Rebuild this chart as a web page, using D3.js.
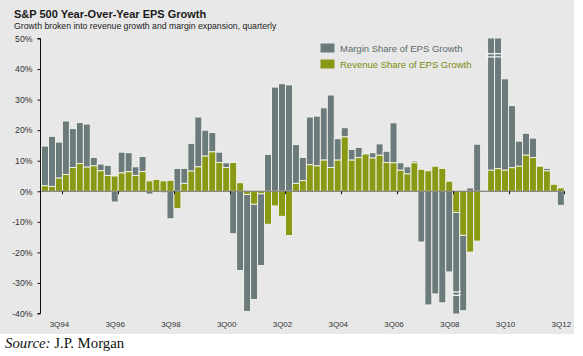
<!DOCTYPE html>
<html>
<head>
<meta charset="utf-8">
<script src="https://cdn.jsdelivr.net/npm/d3@7/dist/d3.min.js"></script>
<style>
  html, body { margin: 0; padding: 0; background: #ffffff; }
  svg { display: block; }
</style>
</head>
<body>
<svg id="chart" width="583" height="356"></svg>
<script>
// ---------------- DATA ----------------
const quarters = [
  "1Q94","2Q94","3Q94","4Q94","1Q95","2Q95","3Q95","4Q95",
  "1Q96","2Q96","3Q96","4Q96","1Q97","2Q97","3Q97","4Q97",
  "1Q98","2Q98","3Q98","4Q98","1Q99","2Q99","3Q99","4Q99",
  "1Q00","2Q00","3Q00","4Q00","1Q01","2Q01","3Q01","4Q01",
  "1Q02","2Q02","3Q02","4Q02","1Q03","2Q03","3Q03","4Q03",
  "1Q04","2Q04","3Q04","4Q04","1Q05","2Q05","3Q05","4Q05",
  "1Q06","2Q06","3Q06","4Q06","1Q07","2Q07","3Q07","4Q07",
  "1Q08","2Q08","3Q08","4Q08","1Q09","2Q09","3Q09","4Q09",
  "1Q10","2Q10","3Q10","4Q10","1Q11","2Q11","3Q11","4Q11",
  "1Q12","2Q12","3Q12"
];
// Revenue share of EPS growth (%)
const revenueShare = [
  1.8, 1.6, 4.3, 5.5, 7.8, 9.1, 7.9, 8.3,
  6.7, 5.2, 5.0, 6.0, 6.4, 5.2, 6.5, 3.4,
  3.9, 3.4, 3.6, -5.7, 2.6, 6.6, 8.0, 11.5,
  12.9, 9.4, 7.8, 9.4, 2.8, -1.0, -4.2, -0.8,
  -10.8, -4.8, -8.2, -14.5, 2.6, 3.5, 8.7, 8.3,
  10.2, 7.8, 10.2, 17.8, 10.2, 11.0, 12.2, 10.9,
  11.8, 9.4, 9.3, 6.9, 5.7, 9.3, 7.2, 6.7,
  8.2, 7.5, 3.3, -6.9, -14.4, -19.9, -16.3, null,
  6.9, 7.4, 6.9, 7.7, 8.2, 11.8, 11.0, 8.2,
  6.7, 2.3, 1.1
];
// Margin share of EPS growth (%)
const marginShare = [
  13.0, 16.4, 11.8, 17.5, 12.7, 13.4, 14.1, 2.8,
  2.2, 3.3, -3.5, 6.8, 6.2, 2.8, 4.9, -0.9,
  -0.3, -0.5, -9.0, 7.5, 4.9, 9.1, 16.3, 8.5,
  6.3, 3.4, 1.5, -13.9, -25.9, -38.3, -31.2, -23.5,
  12.1, 34.1, 35.2, 34.8, 12.7, 7.6, 15.6, 16.3,
  17.1, 23.7, 7.0, 3.0, 3.5, 3.4, -0.3, 1.7,
  3.7, 3.7, 13.1, 2.4, 2.3, 0.6, -16.6, -37.2,
  -33.6, -36.5, -26.4, -41.0, -24.7, 1.1, 15.4, null,
  55.0, 45.0, 29.9, 20.3, 8.2, 7.2, 6.4, 0.2,
  0.8, 0.0, -4.6
];
const xTickLabels = ["3Q94","3Q96","3Q98","3Q00","3Q02","3Q04","3Q06","3Q08","3Q10","3Q12"];
const yTicks = [50, 40, 30, 20, 10, 0, -10, -20, -30, -40];
const seriesNames = ["Margin Share of EPS Growth", "Revenue Share of EPS Growth"];

// ---------------- SETUP ----------------
const svg = d3.select("#chart");
const colMargin = "#6b7a7a";
const colRevenue = "#8a9914";

svg.append("rect").attr("x", 0).attr("y", 0).attr("width", 574).attr("height", 334).attr("fill", "#e8e8e8");

const x = d3.scaleBand().domain(quarters).range([41.5, 564.3]).paddingInner(0).paddingOuter(0);
const y = d3.scaleLinear().domain([-40, 50]).range([313.5, 38.5]);

// Title
svg.append("text").attr("x", 14).attr("y", 18)
  .attr("font-family", "Liberation Sans, Arial, sans-serif").attr("font-size", 11).attr("font-weight", "bold")
  .attr("fill", "#1a1a1a").text("S&P 500 Year-Over-Year EPS Growth");
svg.append("text").attr("x", 14).attr("y", 29)
  .attr("font-family", "Liberation Sans, Arial, sans-serif").attr("font-size", 8.7)
  .attr("fill", "#222").text("Growth broken into revenue growth and margin expansion, quarterly");

// Data rows
const rows = quarters.map((q, i) => ({ q, revenue: revenueShare[i], margin: marginShare[i] }))
  .filter(d => d.revenue !== null && d.margin !== null);
const stack = d3.stack().keys(["revenue", "margin"]).offset(d3.stackOffsetDiverging);
const stacked = stack(rows);

// clip
svg.append("clipPath").attr("id", "plotclip").append("rect")
  .attr("x", 38).attr("y", y(50)).attr("width", 540).attr("height", y(-40) - y(50));

const gBars = svg.append("g").attr("clip-path", "url(#plotclip)");
const colorFor = { revenue: colRevenue, margin: colMargin };
// draw margin first (underneath), then revenue
[stacked[1], stacked[0]].forEach(layer => {
  gBars.append("g").selectAll("rect").data(layer).join("rect")
    .attr("x", d => x(d.data.q))
    .attr("width", x.bandwidth())
    .attr("y", d => y(Math.max(d[0], d[1])))
    .attr("height", d => Math.abs(y(d[0]) - y(d[1])))
    .attr("fill", colorFor[layer.key])
    .attr("stroke", "#f4f4ee")
    .attr("stroke-width", 0.9);
});

// Break marks for bars beyond the axis range
const breaks = [];
stacked[1].forEach(d => {
  const top = Math.max(d[0], d[1]), bot = Math.min(d[0], d[1]);
  if (top > 50) breaks.push({ q: d.data.q, yv: 44.5 });
  if (bot < -40) breaks.push({ q: d.data.q, yv: -33.5 });
});
breaks.forEach(b => {
  const x0 = x(b.q) - 1, x1 = x(b.q) + x.bandwidth() + 1;
  const yc = y(b.yv);
  [ -1.6, 1.6 ].forEach(off => {
    const yy = yc + off;
    const mx = (x0 + x1) / 2;
    svg.append("path")
      .attr("d", `M${x0},${yy + 1} C${mx - 1},${yy - 2} ${mx + 1},${yy + 2} ${x1},${yy - 1}`)
      .attr("fill", "none").attr("stroke", "#ffffff").attr("stroke-width", 1.1);
  });
});

// zero line
svg.append("line").attr("x1", 40.5).attr("x2", 564.5).attr("y1", y(0)).attr("y2", y(0))
  .attr("stroke", "#5f5f55").attr("stroke-width", 0.9);

// x ticks (at right edge of each labelled quarter)
xTickLabels.forEach(lbl => {
  const xt = Math.round(x(lbl) + x.bandwidth()) + 0.5;
  svg.append("line").attr("x1", xt).attr("x2", xt).attr("y1", y(0)).attr("y2", y(0) + 3)
    .attr("stroke", "#111").attr("stroke-width", 1);
  svg.append("text").attr("x", x(lbl) + x.bandwidth() / 2 + 0.5).attr("y", 327)
    .attr("text-anchor", "middle")
    .attr("font-family", "Liberation Sans, Arial, sans-serif").attr("font-size", 8)
    .attr("fill", "#333").text(lbl);
});

// y axis
const yAxis = d3.axisLeft(y).tickValues(yTicks).tickSize(3).tickPadding(5)
  .tickFormat(d => d + "%");
const gy = svg.append("g").attr("transform", "translate(40.5,0)").call(yAxis);
gy.select(".domain").attr("stroke", "#111").attr("d", `M-3,${y(50)}H0V${y(-40)}H-3`);
gy.selectAll(".tick line").attr("stroke", "#111");
gy.selectAll(".tick text").attr("font-family", "Liberation Sans, Arial, sans-serif")
  .attr("font-size", 8.7).attr("fill", "#333");

// Legend
const legend = [
  { name: seriesNames[0], color: colMargin, text: "#5c6b6b", y: 43.5 },
  { name: seriesNames[1], color: colRevenue, text: "#7d8b0c", y: 59.5 }
];
legend.forEach(l => {
  svg.append("rect").attr("x", 320.5).attr("y", l.y).attr("width", 14).attr("height", 9).attr("fill", l.color);
  svg.append("text").attr("x", 340).attr("y", l.y + 8.3)
    .attr("font-family", "Liberation Sans, Arial, sans-serif").attr("font-size", 9.5)
    .attr("fill", l.text).text(l.name);
});

// Source
const src = svg.append("text").attr("x", 5).attr("y", 348)
  .attr("font-family", "Liberation Serif, DejaVu Serif, serif").attr("font-size", 14.8).attr("fill", "#111");
src.append("tspan").attr("font-style", "italic").text("Source:");
src.append("tspan").text(" J.P. Morgan");
</script>
</body>
</html>
